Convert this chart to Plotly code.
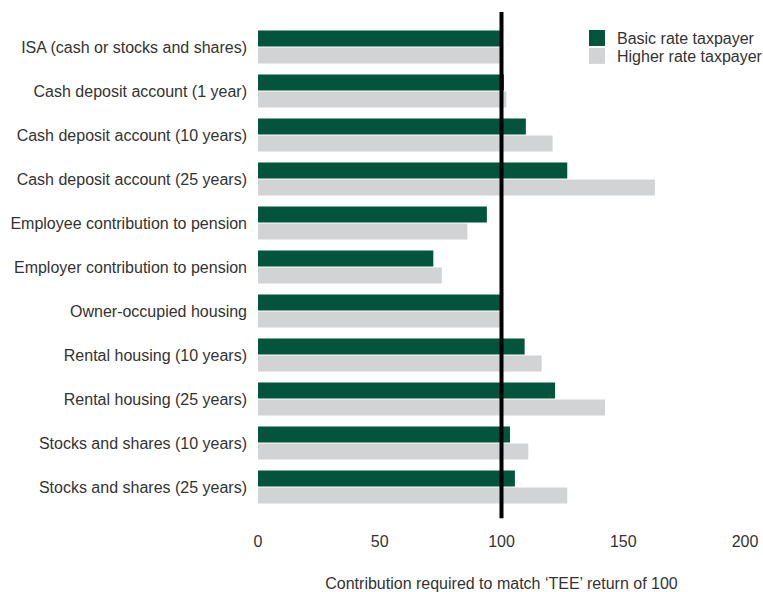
import plotly.graph_objects as go

categories = [
    "ISA (cash or stocks and shares)",
    "Cash deposit account (1 year)",
    "Cash deposit account (10 years)",
    "Cash deposit account (25 years)",
    "Employee contribution to pension",
    "Employer contribution to pension",
    "Owner-occupied housing",
    "Rental housing (10 years)",
    "Rental housing (25 years)",
    "Stocks and shares (10 years)",
    "Stocks and shares (25 years)",
]
basic_rate = [100, 101, 110, 127, 94, 72, 100, 109.5, 122, 103.5, 105.5]
higher_rate = [100, 102, 121, 163, 86, 75.5, 100, 116.5, 142.5, 111, 127]
x_ticks = [0, 50, 100, 150, 200]
reference_value = 100

GREEN = "#03543C"
GREY = "#D2D3D5"
TEXT = "#333333"
FONT = "Liberation Sans"

fig = go.Figure()
fig.add_trace(go.Bar(y=categories, x=basic_rate, orientation="h",
                     marker=dict(color=GREEN, line=dict(width=0)),
                     name="Basic rate taxpayer", showlegend=False))
fig.add_trace(go.Bar(y=categories, x=higher_rate, orientation="h",
                     marker=dict(color=GREY, line=dict(width=0)),
                     name="Higher rate taxpayer", showlegend=False))
# legend proxies with larger square swatches (one legend per row for tight spacing)
fig.add_trace(go.Scatter(x=[None], y=[None], mode="markers",
                         marker=dict(symbol="square", size=16, color=GREEN),
                         name="Basic rate taxpayer", legend="legend"))
fig.add_trace(go.Scatter(x=[None], y=[None], mode="markers",
                         marker=dict(symbol="square", size=16, color=GREY),
                         name="Higher rate taxpayer", legend="legend2"))

fig.add_shape(type="line", xref="x", yref="paper",
              x0=reference_value, x1=reference_value, y0=-0.019, y1=1.027,
              line=dict(color="black", width=4), layer="above")

legend_common = dict(xanchor="left", yanchor="middle", bgcolor="rgba(0,0,0,0)",
                     font=dict(size=16, color=TEXT), itemwidth=30)

fig.update_layout(
    width=763, height=592,
    margin=dict(l=258, r=18, t=25, b=83, autoexpand=False),
    paper_bgcolor="white", plot_bgcolor="white",
    font=dict(family=FONT, size=16, color=TEXT),
    barmode="group", bargap=0.23, bargroupgap=0.06,
    legend=dict(x=0.655, y=0.973, **legend_common),
    legend2=dict(x=0.655, y=0.936, **legend_common),
    xaxis=dict(range=[0, 200], tickvals=x_ticks, showgrid=False, zeroline=False,
               showline=False, ticks="outside", ticklen=18, tickcolor="white",
               title=dict(text="Contribution required to match \u2018TEE\u2019 return of 100",
                          standoff=32, font=dict(size=16, color=TEXT)),
               fixedrange=True),
    yaxis=dict(categoryorder="array", categoryarray=categories,
               autorange="reversed", showgrid=False, zeroline=False,
               showline=False, ticks="", ticklabelstandoff=10,
               fixedrange=True),
)

fig.write_html("out.html")
